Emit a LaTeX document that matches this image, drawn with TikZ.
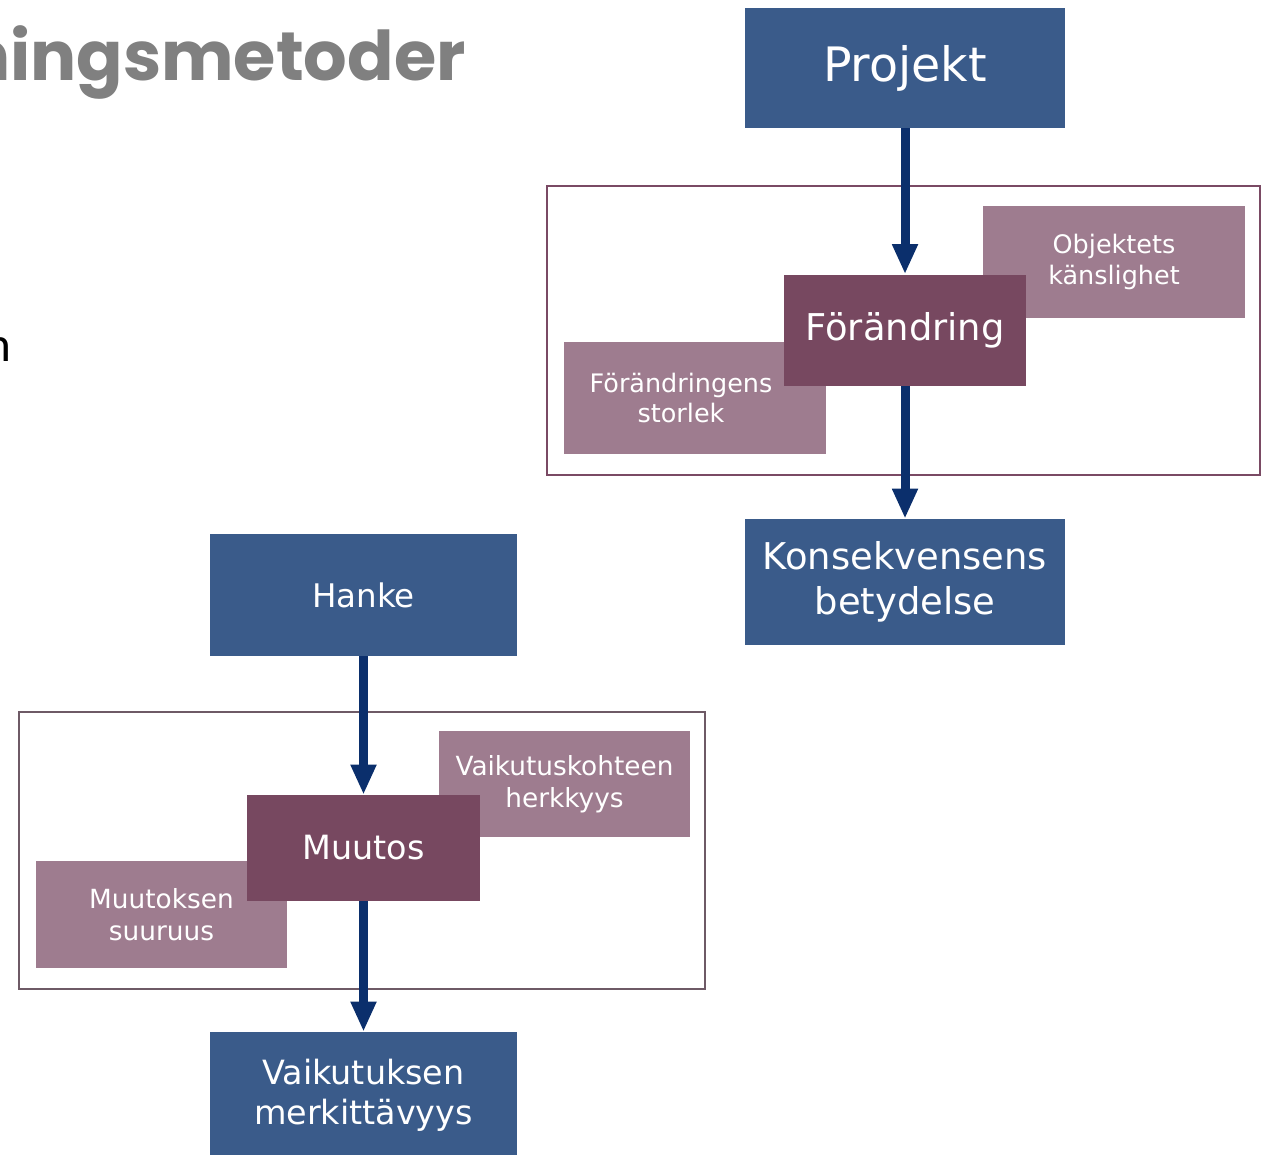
\documentclass[tikz,border=0pt]{standalone}
\usepackage{fontspec}
\setmainfont{DejaVu Sans}
\newfontfamily\titlefont{Poppins}
\newfontfamily\bodyfont{Carlito}
\usetikzlibrary{arrows.meta}
\definecolor{boxblue}{HTML}{3A5B8A}
\definecolor{arrowblue}{HTML}{0B2F6C}
\definecolor{darkplum}{HTML}{774860}
\definecolor{lightplum}{HTML}{9E7C8F}
\definecolor{frameplum}{HTML}{7A4A64}
\definecolor{framegray}{HTML}{6E5A66}
\definecolor{titlegray}{HTML}{808080}

\begin{document}
\begin{tikzpicture}[x=0.02cm,y=-0.02cm,
  mainbox/.style={fill=boxblue,text=white,inner sep=0pt,align=center},
  changebox/.style={fill=darkplum,text=white,inner sep=0pt,align=center},
  sidebox/.style={fill=lightplum,text=white,inner sep=0pt,align=center,
    font=\fontsize{14.5}{17.6}\selectfont},
  flow/.style={draw=arrowblue,line width=0.18cm,
    -{Triangle[width=0.48cm,length=0.6cm]}}]
\useasboundingbox (0,0) rectangle (1266,1154);
\node[anchor=base east,text=titlegray,inner sep=0pt,
  font=\titlefont\bfseries\fontsize{39}{45}\selectfont] (titel) at (466,80) {ningsmetoder};
\node[anchor=base east,inner sep=0pt,font=\bodyfont\fontsize{28}{32}\selectfont] (rest) at (12,361) {n};
\draw[frameplum,line width=0.03cm] (547,186) rectangle (1260,475);
\node[mainbox,minimum width=6.4cm,minimum height=2.4cm,
  font=\fontsize{27}{32}\selectfont] (projekt) at (905,68) {Projekt};
\node[sidebox,minimum width=5.24cm,minimum height=2.24cm] (kansl) at (1114,262) {Objektets\\känslighet};
\node[sidebox,minimum width=5.24cm,minimum height=2.24cm] (storlek) at (695,398) {};
\node[text=white,inner sep=0pt,align=center,font=\fontsize{14.5}{17.6}\selectfont]
  (storlektxt) at (681,398) {Förändringens\\storlek};
\node[changebox,minimum width=4.84cm,minimum height=2.22cm,
  font=\fontsize{21}{25}\selectfont] (forandr) at (905,330) {Förändring};
\node[mainbox,minimum width=6.4cm,minimum height=2.52cm,
  font=\fontsize{21}{25.5}\selectfont] (konsek) at (905,582) {Konsekvensens\\betydelse};
\draw[flow] (projekt.south) -- (forandr.north);
\draw[flow] (forandr.south) -- (konsek.north);
\draw[framegray,line width=0.03cm] (19,712) rectangle (705,989);
\node[mainbox,minimum width=6.14cm,minimum height=2.44cm,
  font=\fontsize{18.5}{22}\selectfont] (hanke) at (363.5,595) {Hanke};
\node[sidebox,minimum width=5.02cm,minimum height=2.12cm,
  font=\fontsize{15}{18.5}\selectfont] (herkk) at (564.5,784) {Vaikutuskohteen\\herkkyys};
\node[sidebox,minimum width=5.02cm,minimum height=2.14cm,
  font=\fontsize{15}{18.5}\selectfont] (suuruus) at (161.5,914.5) {Muutoksen\\suuruus};
\node[changebox,minimum width=4.66cm,minimum height=2.12cm,
  font=\fontsize{19}{23}\selectfont] (muutos) at (363.5,848) {Muutos};
\node[mainbox,minimum width=6.14cm,minimum height=2.52cm,
  font=\fontsize{19}{23}\selectfont] (vaikut) at (363.5,1095) {Vaikutuksen\\merkittävyys};
\draw[flow] (hanke.south) -- (muutos.north);
\draw[flow] (muutos.south) -- (vaikut.north);
\end{tikzpicture}
\end{document}
